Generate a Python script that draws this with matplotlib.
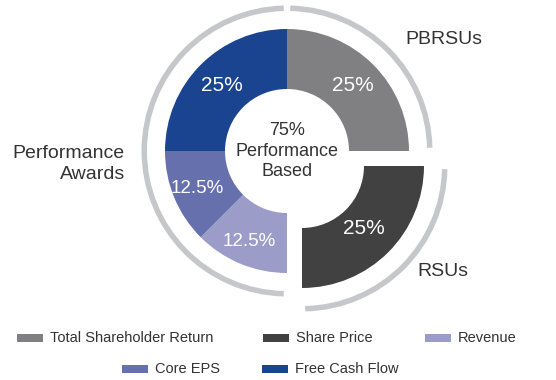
import math
import matplotlib
matplotlib.use("Agg")
import matplotlib.pyplot as plt
from matplotlib.patches import Wedge, Rectangle

plt.rcParams['font.family'] = ['Liberation Sans', 'DejaVu Sans']

# Award mix
categories = ["Total Shareholder Return", "Share Price", "Revenue", "Core EPS", "Free Cash Flow"]
shares = [25, 25, 12.5, 12.5, 25]
share_labels = ["25%", "25%", "12.5%", "12.5%", "25%"]
colors = ["#808083", "#414141", "#9b9dc8", "#6670ad", "#1a448f"]
exploded = [False, True, False, False, False]

# Award vehicles grouping the slices
groups = ["PBRSUs", "RSUs", "Performance\nAwards"]
group_members = [[0], [1], [2, 3, 4]]

center_text = "75%\nPerformance\nBased"

W, H = 556, 380
fig = plt.figure(figsize=(W / 100, H / 100), dpi=100)
ax = fig.add_axes([0, 0, 1, 1])

cx, cy = 287, H - 151
R = 122
ring = 60
offset = 21.2  # pull-out distance of the RSU slice

explode = [offset if e else 0 for e in exploded]
wedges, _ = ax.pie(
    shares, colors=colors, startangle=90, counterclock=False,
    radius=R, center=(cx, cy), explode=explode,
    wedgeprops=dict(width=ring, linewidth=0),
)

# Value labels inside each slice
for w, lab, s, e in zip(wedges, share_labels, shares, exploded):
    mid = math.radians(0.5 * (w.theta1 + w.theta2))
    dist = R * (0.80 if s < 25 else (0.72 if e else 0.76))
    wx, wy = w.center
    ax.text(wx + dist * math.cos(mid), wy + dist * math.sin(mid), lab,
            ha="center", va="center", color="white",
            fontsize=15 if s >= 25 else 13.5)

# Thin grey arcs around each award vehicle
arc_gray = "#c6c7ca"
gap = 1.3
arc_r = 145.5
for members in group_members:
    ws = [wedges[i] for i in members]
    th_lo = min(w.theta1 for w in ws)
    th_hi = max(w.theta2 for w in ws)
    ccx, ccy = ws[0].center
    ax.add_patch(Wedge((ccx, ccy), arc_r, th_lo + gap, th_hi - gap,
                       width=5.5, facecolor=arc_gray, edgecolor="none"))

txt = "#333333"
ax.text(cx, cy, center_text, ha="center", va="center", fontsize=13,
        color=txt, linespacing=1.3)

ax.text(405, H - 40, groups[0], ha="left", va="center", fontsize=14, color=txt)
ax.text(417, H - 272, groups[1], ha="left", va="center", fontsize=14, color=txt)
ax.text(125, H - 164, groups[2], ha="right", va="center", fontsize=14,
        color=txt, linespacing=1.25)

# Legend rows
legend_pos = [(17, 338), (263, 338), (425, 338), (122, 369), (262, 369)]
for (lx, ly), name, col in zip(legend_pos, categories, colors):
    ax.add_patch(Rectangle((lx, H - ly - 4), 26, 8, facecolor=col, edgecolor="none"))
    ax.text(lx + 33, H - ly, name, ha="left", va="center", fontsize=10.5, color=txt)

ax.set_xlim(0, W)
ax.set_ylim(0, H)
ax.set_aspect("equal")
ax.axis("off")

fig.savefig("out.png", dpi=100)
